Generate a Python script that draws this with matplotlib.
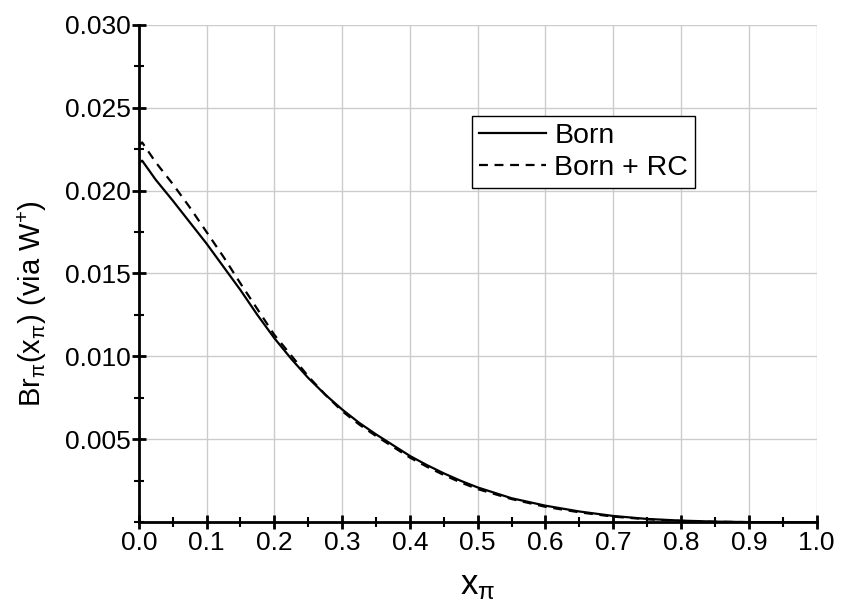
import numpy as np
import matplotlib.pyplot as plt
from matplotlib.ticker import MultipleLocator, FixedLocator

# ─── data ───
x_pi = [0.0, 0.005, 0.025, 0.05, 0.075, 0.1, 0.125, 0.15, 0.175, 0.2, 0.225,
        0.25, 0.275, 0.3, 0.325, 0.35, 0.375, 0.4, 0.425, 0.45, 0.475,
        0.5, 0.55, 0.6, 0.65, 0.7, 0.75, 0.8, 0.85, 0.9, 0.95, 1.0]

br_born = [0.02165, 0.0218, 0.02065, 0.0194, 0.0181, 0.0168, 0.0154, 0.0140, 0.0125,
           0.0111, 0.00985, 0.0087, 0.0077, 0.0068, 0.0060, 0.0053, 0.00465,
           0.0040, 0.00345, 0.00295, 0.0025, 0.0021, 0.00145, 0.00100, 0.00065,
           0.00038, 0.00020, 0.00010, 0.00004, 0.00001, 0.0, 0.0]

br_born_rc = [0.0227, 0.0229, 0.0217, 0.0204, 0.0190, 0.0175, 0.0160, 0.0144, 0.01285,
              0.0113, 0.01005, 0.0088, 0.0077, 0.0067, 0.0059, 0.0052, 0.00455,
              0.0039, 0.00335, 0.00285, 0.0024, 0.0020, 0.0014, 0.00093, 0.00060,
              0.00034, 0.00018, 0.00008, 0.00003, 0.00001, 0.0, 0.0]

x_ticks = [0.0, 0.1, 0.2, 0.3, 0.4, 0.5, 0.6, 0.7, 0.8, 0.9, 1.0]
y_ticks = [0.005, 0.010, 0.015, 0.020, 0.025, 0.030]

plt.rcParams['font.family'] = ['Liberation Sans', 'DejaVu Sans']
plt.rcParams['mathtext.fontset'] = 'custom'
plt.rcParams['mathtext.rm'] = 'Liberation Sans'
plt.rcParams['mathtext.it'] = 'Liberation Sans'

fig = plt.figure(figsize=(8.41, 6.01), dpi=100)
ax = fig.add_axes([0.165, 0.131, 0.806, 0.828])

ax.plot(x_pi, br_born, color='black', lw=1.6, ls='-', label='Born')
ax.plot(x_pi, br_born_rc, color='black', lw=1.6, ls=(0, (4, 3)), label='Born + RC')

ax.set_xlim(0, 1.0)
ax.set_ylim(0, 0.030)
ax.xaxis.set_major_locator(FixedLocator(x_ticks))
ax.xaxis.set_minor_locator(MultipleLocator(0.05))
ax.yaxis.set_major_locator(FixedLocator(y_ticks))
ax.yaxis.set_minor_locator(MultipleLocator(0.0025))
ax.set_xticklabels([f"{v:.1f}" for v in x_ticks])
ax.set_yticklabels([f"{v:.3f}" for v in y_ticks])

ax.grid(True, which='major', color='#cccccc', lw=1.0)
ax.set_axisbelow(True)
for side in ['top', 'right']:
    ax.spines[side].set_visible(False)
for side in ['left', 'bottom']:
    ax.spines[side].set_linewidth(2)

ax.tick_params(which='major', direction='inout', length=10, width=2, labelsize=19, pad=1)
ax.tick_params(which='minor', direction='inout', length=7, width=1.5)

ax.set_xlabel(r'x$_{\pi}$', fontsize=25)
ax.xaxis.set_label_coords(0.5, -0.093)
ax.set_ylabel(r'Br$_{\pi}$(x$_{\pi}$) (via W$^{+}$)', fontsize=21)
ax.yaxis.set_label_coords(-0.133, 0.44)

leg = ax.legend(loc='upper left', bbox_to_anchor=(0.491, 0.817), fontsize=20.5,
                frameon=True, fancybox=False, framealpha=1, edgecolor='black',
                handlelength=2.35, borderpad=0.25, borderaxespad=0,
                labelspacing=0.2, handletextpad=0.3)
leg.get_frame().set_linewidth(1.0)

plt.savefig('out.png', dpi=100)
